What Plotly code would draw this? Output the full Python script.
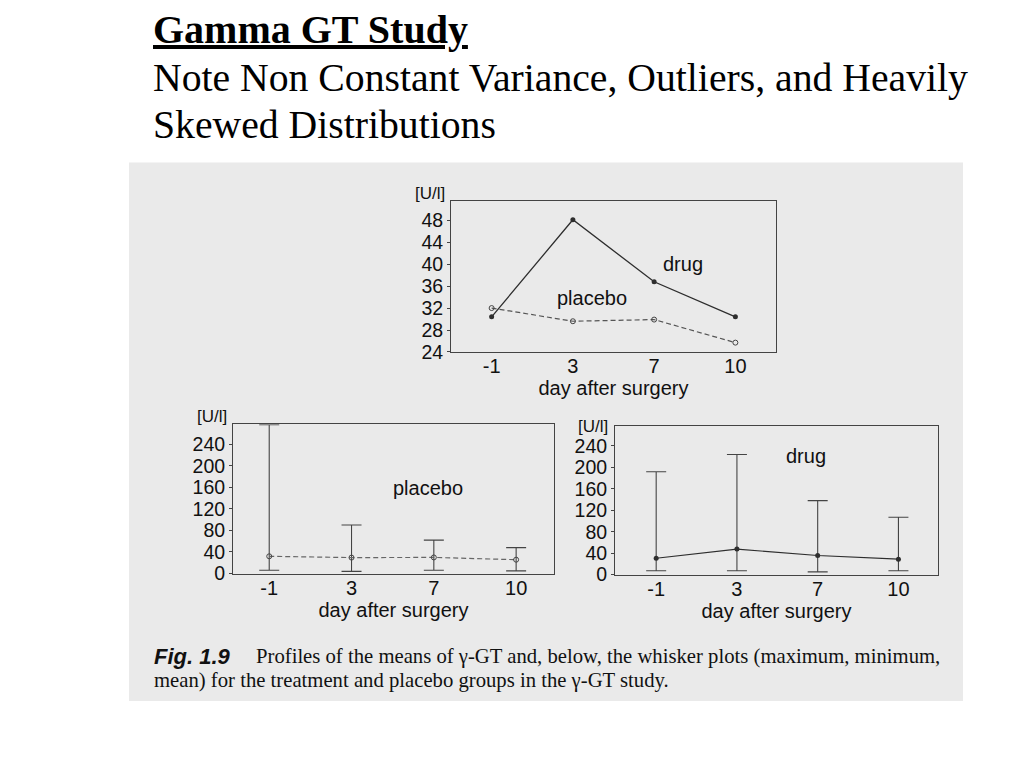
import plotly.graph_objects as go

# ---------------- data ----------------
days = ["-1", "3", "7", "10"]

# top panel: profiles of means
drug_mean = [30.4, 48.1, 36.8, 30.4]
placebo_mean = [32.0, 29.6, 29.9, 25.7]

# bottom panels: whisker plots (max, min, mean)
placebo_max = [276, 90, 62, 48]
placebo_min = [6, 4, 6, 5]
placebo_wmean = [32.0, 29.6, 29.9, 25.7]

drug_max = [192, 224, 138, 107]
drug_min = [7, 7, 5, 7]
drug_wmean = [30.4, 47.5, 35.6, 28.7]

top_ticks = [24, 28, 32, 36, 40, 44, 48]
bottom_ticks = [0, 40, 80, 120, 160, 200, 240]

# ---------------- helpers ----------------
W, H = 1024, 768
K = 0.983  # vertical correction observed in the rendered photo
def px(xp):
    return xp / W
def py(yp):
    return 1 - (yp / K) / H

ink = "#2e2e2e"
sans = "Liberation Sans, Arial, sans-serif"
serif = "Liberation Serif, Times New Roman, serif"

fig = go.Figure()

# top panel
fig.add_trace(go.Scatter(x=days, y=placebo_mean, mode="lines+markers",
                         line=dict(color="#555555", width=1.2, dash="5px,3px"),
                         marker=dict(symbol="circle-open", size=5, color="#444444", line=dict(width=1)),
                         xaxis="x", yaxis="y", showlegend=False))
fig.add_trace(go.Scatter(x=days, y=drug_mean, mode="lines+markers",
                         line=dict(color=ink, width=1.3),
                         marker=dict(symbol="circle", size=5, color=ink),
                         xaxis="x", yaxis="y", showlegend=False))

# bottom-left placebo whiskers
fig.add_trace(go.Scatter(
    x=days, y=placebo_wmean, mode="lines+markers",
    line=dict(color="#666666", width=1.2, dash="5px,3px"),
    marker=dict(symbol="circle-open", size=5, color="#444444", line=dict(width=1)),
    error_y=dict(type="data", symmetric=False,
                 array=[mx - m for mx, m in zip(placebo_max, placebo_wmean)],
                 arrayminus=[m - mn for mn, m in zip(placebo_min, placebo_wmean)],
                 color="#444444", thickness=1.1, width=10),
    xaxis="x2", yaxis="y2", showlegend=False))

# bottom-right drug whiskers
fig.add_trace(go.Scatter(
    x=days, y=drug_wmean, mode="lines+markers",
    line=dict(color=ink, width=1.2),
    marker=dict(symbol="circle", size=5, color=ink),
    error_y=dict(type="data", symmetric=False,
                 array=[mx - m for mx, m in zip(drug_max, drug_wmean)],
                 arrayminus=[m - mn for mn, m in zip(drug_min, drug_wmean)],
                 color="#444444", thickness=1.1, width=10),
    xaxis="x3", yaxis="y3", showlegend=False))

xcommon = dict(type="category", categoryorder="array", categoryarray=days,
               showline=True, mirror=True, linecolor="#444444", linewidth=1,
               ticks="", showgrid=False, zeroline=False, ticklabelstandoff=-4,
               tickfont=dict(family=sans, size=20, color="#111111"),
               title=dict(text="day after surgery", font=dict(family=sans, size=20, color="#111111"),
                          standoff=3))
ycommon = dict(showline=True, mirror=True, linecolor="#444444", linewidth=1,
               ticks="outside", ticklen=3, tickcolor="#444444",
               showgrid=False, zeroline=False,
               tickfont=dict(family=sans, size=19.5, color="#111111"))

def right_ticks(over, anchor, rng, vals):
    return dict(overlaying=over, side="right", anchor=anchor, range=rng, tickvals=vals,
                ticks="inside", ticklen=4, tickcolor="#444444", showticklabels=False,
                showgrid=False, zeroline=False, showline=False)

fig.update_layout(
    width=W, height=H,
    margin=dict(l=0, r=0, t=0, b=0),
    paper_bgcolor="white", plot_bgcolor="rgba(0,0,0,0)",
    xaxis=dict(xcommon, domain=[px(451), px(776)], range=[-0.5, 3.5], anchor="y"),
    yaxis=dict(ycommon, domain=[py(351), py(200)], range=[24, 51.6],
               tickvals=top_ticks, anchor="x"),
    xaxis2=dict(xcommon, domain=[px(233), px(554)], range=[-0.44, 3.46], anchor="y2"),
    yaxis2=dict(ycommon, domain=[py(572), py(423)], range=[0, 277],
                tickvals=bottom_ticks, anchor="x2"),
    xaxis3=dict(xcommon, domain=[px(615), px(938)], range=[-0.51, 3.49], anchor="y3"),
    yaxis3=dict(ycommon, domain=[py(573), py(425)], range=[0, 277],
                tickvals=bottom_ticks, anchor="x3"),
    yaxis4=right_ticks("y", "x", [24, 51.6], top_ticks),
    yaxis5=right_ticks("y2", "x2", [0, 277], bottom_ticks),
    yaxis6=right_ticks("y3", "x3", [0, 277], bottom_ticks),
    shapes=[dict(type="rect", xref="paper", yref="paper", layer="below",
                 x0=px(129), x1=px(963), y0=py(699), y1=py(162),
                 fillcolor="#eaeaea", line=dict(width=0))],
)

ann = []
# titles
ann.append(dict(text="<b><u>Gamma GT Study</u></b>", x=px(151), y=py(29), xref="paper", yref="paper",
                xanchor="left", yanchor="middle", showarrow=False,
                font=dict(family=serif, size=40, color="black")))
ann.append(dict(text="Note Non Constant Variance, Outliers, and Heavily", x=px(151), y=py(78),
                xref="paper", yref="paper", xanchor="left", yanchor="middle", showarrow=False,
                font=dict(family=serif, size=39.7, color="black")))
ann.append(dict(text="Skewed Distributions", x=px(151), y=py(125),
                xref="paper", yref="paper", xanchor="left", yanchor="middle", showarrow=False,
                font=dict(family=serif, size=39.7, color="black")))

# unit labels
for xx, yy in [(430, 193), (212, 415), (593, 425)]:
    ann.append(dict(text="[U/l]", x=px(xx), y=py(yy), xref="paper", yref="paper",
                    xanchor="center", yanchor="middle", showarrow=False,
                    font=dict(family=sans, size=17, color="#111111")))

# group labels
ann.append(dict(text="drug", x=2.35, y=40.0, xref="x", yref="y", showarrow=False,
                font=dict(family=sans, size=20, color="#111111")))
ann.append(dict(text="placebo", x=1.24, y=33.8, xref="x", yref="y", showarrow=False,
                font=dict(family=sans, size=20, color="#111111")))
ann.append(dict(text="placebo", x=1.93, y=158, xref="x2", yref="y2", showarrow=False,
                font=dict(family=sans, size=20, color="#111111")))
ann.append(dict(text="drug", x=1.85, y=221, xref="x3", yref="y3", showarrow=False,
                font=dict(family=sans, size=20, color="#111111")))

# caption
ann.append(dict(text="<b><i>Fig. 1.9</i></b>", x=px(152), y=py(655), xref="paper", yref="paper",
                xanchor="left", yanchor="middle", showarrow=False,
                font=dict(family=sans, size=22, color="#111111")))
ann.append(dict(text="Profiles of the means of γ-GT and, below, the whisker plots (maximum, minimum,",
                x=px(254), y=py(655), xref="paper", yref="paper",
                xanchor="left", yanchor="middle", showarrow=False,
                font=dict(family=serif, size=20.7, color="#111111")))
ann.append(dict(text="mean) for the treatment and placebo groups in the γ-GT study.",
                x=px(152), y=py(679), xref="paper", yref="paper",
                xanchor="left", yanchor="middle", showarrow=False,
                font=dict(family=serif, size=20.7, color="#111111")))

fig.update_layout(annotations=ann)
fig.write_html("out.html", config={"displayModeBar": False},
               post_script="document.body.style.margin='0px';")
